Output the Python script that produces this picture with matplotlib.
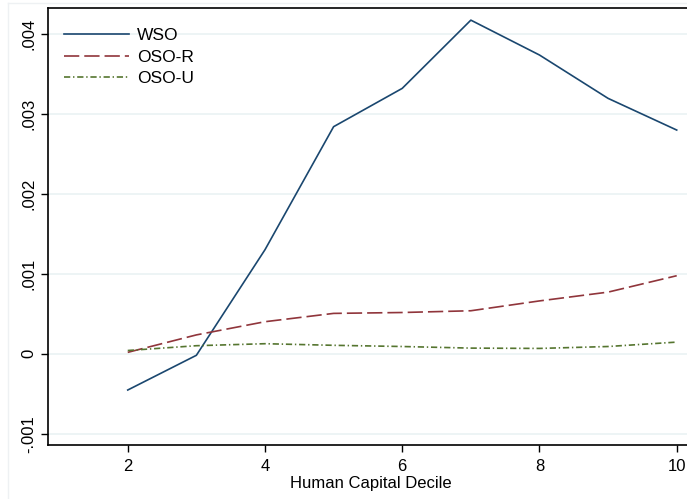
import matplotlib
matplotlib.use("Agg")
import matplotlib.pyplot as plt
from matplotlib.lines import Line2D
from matplotlib.ticker import FuncFormatter

plt.rcParams['font.family'] = ['Liberation Sans', 'DejaVu Sans']
plt.rcParams['lines.scale_dashes'] = False

decile = [2, 3, 4, 5, 6, 7, 8, 9, 10]
wso = [-0.000454, -0.00002, 0.0013, 0.002838, 0.003317, 0.00417, 0.003734, 0.003192, 0.002796]
oso_r = [0.000017, 0.000235, 0.0004, 0.000504, 0.000515, 0.000537, 0.00066, 0.00077, 0.000975]
oso_u = [0.00004, 0.0001, 0.000125, 0.000105, 0.00009, 0.00007, 0.000066, 0.00009, 0.000145]

xticks = [2, 4, 6, 8, 10]
yticks = [-0.001, 0, 0.001, 0.002, 0.003, 0.004]


def stata_fmt(v, pos):
    if abs(v) < 1e-12:
        return "0"
    s = "%.3f" % v
    return s.replace("0.", ".", 1)


W, H = 687, 499
fig = plt.figure(figsize=(W / 100, H / 100), dpi=100)

# faint outer graph-region frame
fig.add_artist(Line2D([8 / W, 8 / W], [0, 1 - 3 / H], color='#eef1f3', lw=1))
fig.add_artist(Line2D([8 / W, 1], [1 - 3 / H, 1 - 3 / H], color='#eef1f3', lw=1))

ax = fig.add_axes([48 / W, 1 - 444.7 / H, 1 - 48 / W + 0.01, (444.7 - 8.3) / H])

ax.plot(decile, wso, color='#1a476f', lw=1.2, label='WSO')
ax.plot(decile, oso_r, color='#90353b', lw=1.2, dashes=(11, 3.6), label='OSO-R')
ax.plot(decile, oso_u, color='#55752f', lw=1.2, dashes=(4.5, 2, 1, 2), label='OSO-U')

ax.set_xlim(0.838, 10.25)
ax.set_ylim(-0.0011375, 0.004318)
ax.set_xticks(xticks)
ax.set_yticks(yticks)
ax.yaxis.set_major_formatter(FuncFormatter(stata_fmt))
ax.grid(axis='y', color='#eaf2f3', lw=1.2)
ax.set_axisbelow(True)

for lab in ax.get_yticklabels():
    lab.set_rotation(90)
    lab.set_va('center')
ax.tick_params(axis='both', labelsize=12, length=5, width=1, color='black')
ax.tick_params(axis='x', pad=5)

for side in ['left', 'bottom', 'top']:
    ax.spines[side].set_color('black')
    ax.spines[side].set_linewidth(1.2)
ax.spines['right'].set_visible(False)

ax.set_xlabel('Human Capital Decile', fontsize=12, labelpad=1.5)

ax.legend(loc='upper left', frameon=False, fontsize=12.5, handlelength=3.75,
          handletextpad=0.5, labelspacing=0.35,
          bbox_to_anchor=(0.0, 0.99))

fig.savefig('out.png', dpi=100)
